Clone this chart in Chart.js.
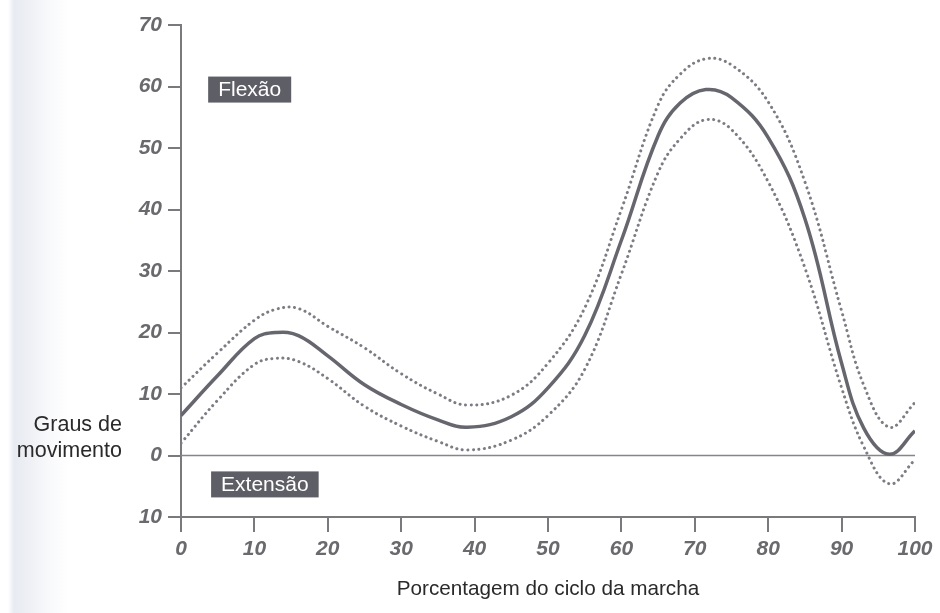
<!DOCTYPE html>
<html>
<head>
<meta charset="utf-8">
<script src="https://cdn.jsdelivr.net/npm/chart.js@4"></script>
<style>
  html, body { margin: 0; padding: 0; }
  body {
    width: 940px; height: 613px; overflow: hidden;
    background: linear-gradient(to right, #ffffff 0px, #ffffff 8px, #e8ebf1 14px, #eef0f5 30px, #f8f9fb 48px, #ffffff 70px);
  }
  #wrap { width: 940px; height: 613px; position: relative; }
</style>
</head>
<body>
<div id="wrap"><canvas id="kneeChart"></canvas></div>
<script>
// Porcentagem do ciclo (eixo x) e graus de flexão do joelho
const cyclePct = [0, 5, 10, 13, 16, 20, 25, 30, 35, 39, 45, 50, 55, 60, 65, 68, 71.5, 75, 80, 85, 90, 93, 96.5, 100];
const meanDeg  = [6.5, 13, 19, 20, 19.5, 16.2, 11.5, 8.3, 5.8, 4.6, 6.3, 11, 19.5, 35, 52, 57.3, 59.5, 58.2, 51.7, 38.5, 15, 4.5, 0.2, 4];
const upperDeg = [11, 16.7, 22, 23.8, 23.9, 21, 17.5, 13.3, 10, 8.2, 9.8, 15, 24, 40, 57, 62, 64.5, 63.5, 57.5, 44.5, 23.5, 11.5, 4.6, 8.6];
const lowerDeg = [2, 9, 14.8, 15.8, 15.3, 12.5, 8, 4.8, 2.3, 0.9, 2.5, 6.5, 14, 29.5, 46, 51.5, 54.6, 53, 44.5, 30.5, 11, 1.5, -4.6, -0.7];
const zeroX = [0, 100];
const zeroY = [0, 0];
const yTicks = [-10, 0, 10, 20, 30, 40, 50, 60, 70];
const xTicks = [0, 10, 20, 30, 40, 50, 60, 70, 80, 90, 100];

const toPoints = (xs, ys) => xs.map((x, i) => ({ x: x, y: ys[i] }));

const FONT = "'Liberation Sans', Arial, Helvetica, sans-serif";
const axisGrey = "#7a7a7e";
const tickFont = { family: FONT, size: 21, weight: "bold", style: "italic" };

// rótulos Flexão / Extensão e títulos dos eixos
const labelsPlugin = {
  id: "labels",
  afterDraw(chart) {
    const ctx = chart.ctx;
    const xs = chart.scales.x, ys = chart.scales.y;
    ctx.save();
    ctx.font = "21px " + FONT;
    ctx.textBaseline = "middle";
    [["Flexão", 3.7, 59.5], ["Extensão", 4.1, -4.7]].forEach(([txt, vx, vy]) => {
      const x = xs.getPixelForValue(vx);
      const y = ys.getPixelForValue(vy);
      const w = ctx.measureText(txt).width + 20;
      ctx.fillStyle = "#5e5e66";
      ctx.fillRect(x, y - 13, w, 26);
      ctx.fillStyle = "#ffffff";
      ctx.textAlign = "left";
      ctx.fillText(txt, x + 10, y + 1);
    });

    ctx.fillStyle = "#2a2a2a";
    ctx.font = "21.5px " + FONT;
    ctx.textAlign = "right";
    ctx.fillText("Graus de", 122, 425);
    ctx.fillText("movimento", 122, 451);

    ctx.font = "20.7px " + FONT;
    ctx.textAlign = "center";
    ctx.fillText("Porcentagem do ciclo da marcha", 548, 589);
    ctx.restore();
  }
};

const dotted = {
  borderColor: "#7c7c84",
  borderWidth: 3,
  borderDash: [0.1, 5.4],
  borderCapStyle: "round",
  pointRadius: 0,
  tension: 0.4,
};

new Chart(document.getElementById("kneeChart"), {
  type: "line",
  data: {
    datasets: [
      {
        label: "Média",
        data: toPoints(cyclePct, meanDeg),
        borderColor: "#66666e",
        borderWidth: 3.5,
        pointRadius: 0,
        tension: 0.4,
      },
      Object.assign({ label: "Superior", data: toPoints(cyclePct, upperDeg) }, dotted),
      Object.assign({ label: "Inferior", data: toPoints(cyclePct, lowerDeg) }, dotted),
      {
        label: "Zero",
        data: toPoints(zeroX, zeroY),
        borderColor: "#85858a",
        borderWidth: 1.6,
        pointRadius: 0,
        tension: 0,
      },
    ],
  },
  options: {
    responsive: true,
    maintainAspectRatio: false,
    animation: false,
    layout: { padding: { left: 0, top: 25, right: 25, bottom: 0 } },
    plugins: { legend: { display: false }, tooltip: { enabled: false } },
    scales: {
      x: {
        type: "linear",
        min: 0,
        max: 100,
        afterFit: (s) => { s.height = 96; },
        afterBuildTicks: (s) => { s.ticks = xTicks.map((v) => ({ value: v })); },
        grid: { drawOnChartArea: false, drawTicks: true, tickLength: 15, tickColor: axisGrey, lineWidth: 2 },
        border: { display: true, color: axisGrey, width: 2 },
        ticks: { color: "#6a6a6e", font: tickFont, padding: 5, maxRotation: 0 },
      },
      y: {
        type: "linear",
        min: -10,
        max: 70,
        afterFit: (s) => { s.width = 181; },
        afterBuildTicks: (s) => { s.ticks = yTicks.map((v) => ({ value: v })); },
        grid: { drawOnChartArea: false, drawTicks: true, tickLength: 13, tickColor: axisGrey, lineWidth: 2 },
        border: { display: true, color: axisGrey, width: 2 },
        ticks: { color: "#6a6a6e", font: tickFont, padding: 6, callback: (v) => Math.abs(v) },
      },
    },
  },
  plugins: [labelsPlugin],
});
</script>
</body>
</html>
